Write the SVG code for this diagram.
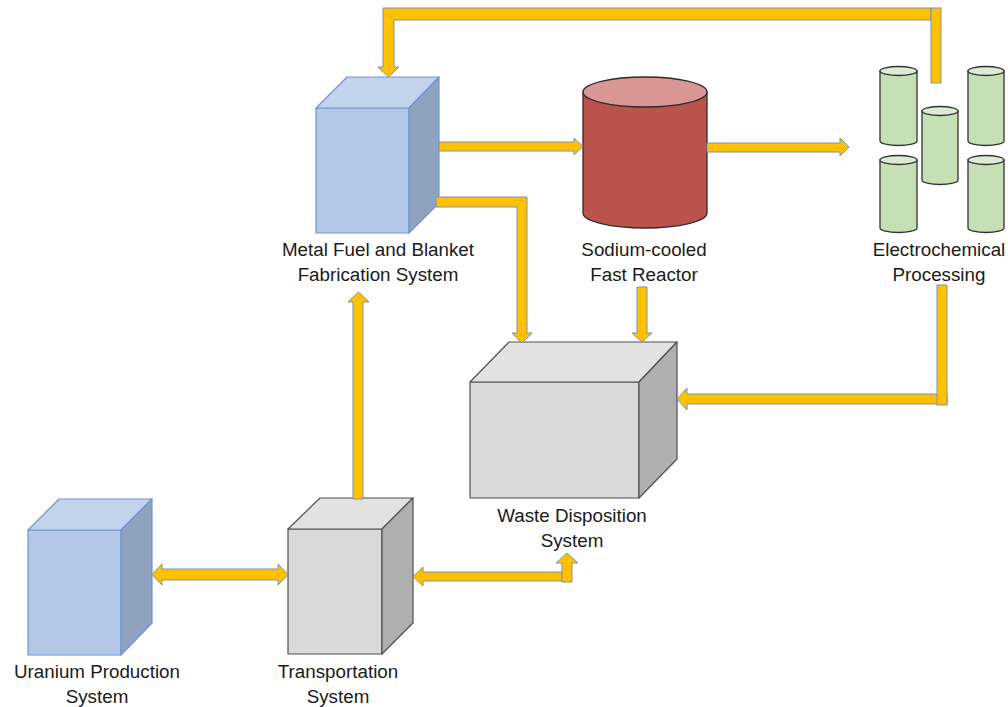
<svg xmlns="http://www.w3.org/2000/svg" width="1008" height="707" viewBox="0 0 1008 707">
  <style>
    .lbl { font-family: "Liberation Sans", Arial, sans-serif; font-size: 18.8px; fill: #1a1a1a; text-anchor: middle; }
    .blue .front { fill: #b4c7e7; }
    .blue .top { fill: #c3d3ec; }
    .blue .side { fill: #8fa2be; }
    .blue path, .blue rect { stroke: #6f95d6; stroke-width: 1.2; stroke-linejoin: round; }
    .gray .front { fill: #d9d9d9; }
    .gray .top { fill: #e2e2e2; }
    .gray .side { fill: #afafaf; }
    .gray path, .gray rect { stroke: #505050; stroke-width: 1.2; stroke-linejoin: round; }
    .cyl-body { fill: #c5e0b4; stroke: #333; stroke-width: 1.3; }
    .cyl-top { fill: #dcebd3; stroke: #333; stroke-width: 1.3; }
    .arrow { fill: #ffc000; stroke: #7f93ad; stroke-width: 1; stroke-linejoin: miter; }
  </style>

  <!-- Metal fuel and blanket fabrication -->
  <g id="fabrication" class="blue">
    <rect class="front" x="316" y="108" width="93" height="125"/>
    <path class="top" d="M316 108 L347 77 L439 77 L409 108 Z"/>
    <path class="side" d="M409 108 L439 77 L439 203 L409 233 Z"/>
    <text class="lbl" x="378" y="256">Metal Fuel and Blanket</text>
    <text class="lbl" x="378" y="281">Fabrication System</text>
  </g>

  <!-- Sodium-cooled fast reactor -->
  <g id="reactor">
    <path d="M583 92 L583 213 A62 15 0 0 0 707 213 L707 92 Z" fill="#b9534b" stroke="#2b2b2b" stroke-width="1.3"/>
    <ellipse cx="645" cy="92" rx="62" ry="15" fill="#d99694" stroke="#2b2b2b" stroke-width="1.3"/>
    <text class="lbl" x="644" y="256">Sodium-cooled</text>
    <text class="lbl" x="644" y="281">Fast Reactor</text>
  </g>

  <!-- Electrochemical processing cells -->
  <g id="electrochemical">
    <path class="cyl-body" d="M880 71 V141 A18.5 4.5 0 0 0 917 141 V71 Z"/>
    <ellipse class="cyl-top" cx="898.5" cy="71" rx="18.5" ry="4.5"/>
    <path class="cyl-body" d="M968 71 V141 A18 4.5 0 0 0 1004 141 V71 Z"/>
    <ellipse class="cyl-top" cx="986" cy="71" rx="18" ry="4.5"/>
    <path class="cyl-body" d="M922 111 V180 A18 4.5 0 0 0 958 180 V111 Z"/>
    <ellipse class="cyl-top" cx="940" cy="111" rx="18" ry="4.5"/>
    <path class="cyl-body" d="M880 160 V228 A18.5 4.5 0 0 0 917 228 V160 Z"/>
    <ellipse class="cyl-top" cx="898.5" cy="160" rx="18.5" ry="4.5"/>
    <path class="cyl-body" d="M968 160 V228 A18 4.5 0 0 0 1004 228 V160 Z"/>
    <ellipse class="cyl-top" cx="986" cy="160" rx="18" ry="4.5"/>
    <text class="lbl" x="939" y="256">Electrochemical</text>
    <text class="lbl" x="939" y="281">Processing</text>
  </g>

  <!-- Waste disposition -->
  <g id="waste" class="gray">
    <rect class="front" x="470" y="382" width="169" height="116"/>
    <path class="top" d="M470 382 L509 342 L677 342 L639 382 Z"/>
    <path class="side" d="M639 382 L677 342 L677 459 L639 498 Z"/>
    <text class="lbl" x="572" y="522">Waste Disposition</text>
    <text class="lbl" x="572" y="547">System</text>
  </g>

  <!-- Uranium production -->
  <g id="uranium" class="blue">
    <rect class="front" x="28" y="530" width="93" height="125"/>
    <path class="top" d="M28 530 L59 499 L152 499 L121 530 Z"/>
    <path class="side" d="M121 530 L152 499 L152 623 L121 655 Z"/>
    <text class="lbl" x="97" y="678">Uranium Production</text>
    <text class="lbl" x="97" y="703">System</text>
  </g>

  <!-- Transportation -->
  <g id="transportation" class="gray">
    <rect class="front" x="288" y="529" width="94" height="125"/>
    <path class="top" d="M288 529 L320 498 L413 498 L382 529 Z"/>
    <path class="side" d="M382 529 L413 498 L413 623 L382 654 Z"/>
    <text class="lbl" x="338" y="678">Transportation</text>
    <text class="lbl" x="338" y="703">System</text>
  </g>

  <!-- Flow arrows -->
  <g id="connectors">
    <!-- recycle loop back to fabrication -->
    <path class="arrow" d="M931 8 H383 V67 H378 L388.5 77 L399 67 H394 V20 H931 Z"/>
    <rect class="arrow" x="931" y="8" width="10" height="75"/>
    <!-- fabrication to reactor -->
    <path class="arrow" d="M439 142 H574 V138 L583 146.5 L574 155 V151 H439 Z"/>
    <!-- fabrication to waste -->
    <path class="arrow" d="M436 197 H527 V333 H532 L522 343 L512 333 H517 V207 H436 Z"/>
    <!-- reactor to waste -->
    <path class="arrow" d="M637 287 V333 H632 L642 342 L652 333 H647 V287 Z"/>
    <!-- reactor to electrochemical -->
    <path class="arrow" d="M707 143 H840 V138 L849 147 L840 156 V152 H707 Z"/>
    <!-- electrochemical to waste -->
    <path class="arrow" d="M947 394 H687 V388 L677 399 L687 410 V404 H947 Z"/>
    <rect class="arrow" x="937" y="285" width="10" height="120"/>
    <!-- transportation to fabrication -->
    <path class="arrow" d="M353 499 V302 H348 L358.5 292 L369 302 H363 V499 Z"/>
    <!-- uranium production <-> transportation -->
    <path class="arrow" d="M152 574.5 L162 564 V569 H278 V564 L288 574.5 L278 585 V580 H162 V585 Z"/>
    <!-- waste <-> transportation -->
    <path class="arrow" d="M562 572 H423 V567 L413 576.5 L423 586 V581 H562 Z"/>
    <path class="arrow" d="M562 582 V563 H556 L567 553 L578 563 H572 V582 Z"/>
  </g>
</svg>
